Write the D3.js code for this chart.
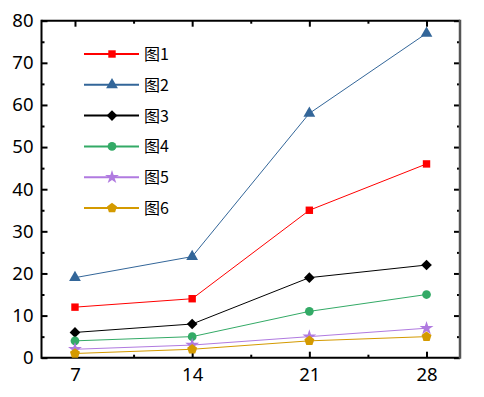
<!DOCTYPE html>
<meta charset="utf-8">
<script src="https://d3js.org/d3.v7.min.js"></script>
<style>
  body { margin: 0; background: #fff; }
  text { font-family: "Noto Sans", "Noto Sans CJK SC", sans-serif; }
</style>
<body>
<svg id="chart" width="484" height="397"></svg>
<script>
  // data
  var days = [7, 14, 21, 28];
  var names = ["图1", "图2", "图3", "图4", "图5", "图6"];
  var s1 = [12, 14, 35, 46];
  var s2 = [19, 24, 58, 77];
  var s3 = [6, 8, 19, 22];
  var s4 = [4, 5, 11, 15];
  var s5 = [2, 3, 5, 7];
  var s6 = [1, 2, 4, 5];
  var yTicks = [0, 10, 20, 30, 40, 50, 60, 70, 80];

  var colors = ["#ff0000", "#336699", "#000000", "#33aa66", "#b07ae0", "#d49a00"];
  var sizes = [55, 60, 55, 60, 60, 65];
  var series = [s1, s2, s3, s4, s5, s6];

  var svg = d3.select("#chart");
  var mLeft = 41.5, mRight = 460, mTop = 20.7, mBottom = 357.7;

  var x = d3.scaleLinear().domain([5, 30]).range([mLeft, mRight]);
  var y = d3.scaleLinear().domain([0, 80]).range([mBottom, mTop]);

  // custom symbols
  function polygon(n, rot, k) {
    return {
      draw: function(ctx, size) {
        var r = Math.sqrt(size) * k;
        for (var i = 0; i < n; i++) {
          var a = rot + i * 2 * Math.PI / n;
          if (i == 0) ctx.moveTo(r * Math.cos(a), r * Math.sin(a));
          else ctx.lineTo(r * Math.cos(a), r * Math.sin(a));
        }
        ctx.closePath();
      }
    };
  }
  var diamond = polygon(4, 0, 0.72);
  var pentagon = polygon(5, -Math.PI / 2, 0.65);
  var shapes = [d3.symbolSquare, d3.symbolTriangle, diamond,
                d3.symbolCircle, d3.symbolStar, pentagon];

  function sym(i) {
    return d3.symbol().type(shapes[i]).size(sizes[i])();
  }

  // axes, ticks pointing inwards
  var minorX = [10.5, 17.5, 24.5];
  var minorY = d3.range(5, 80, 10);

  function noDomain(g) { g.select(".domain").remove(); }

  svg.append("g").attr("transform", "translate(0," + mBottom + ")")
    .call(d3.axisBottom(x).tickValues(days).tickSize(-6).tickPadding(10))
    .call(function(g) {
      noDomain(g);
      g.attr("font-size", 18.5).attr("font-family", null);
      g.selectAll("text").attr("fill", "#000");
    });
  svg.append("g").attr("transform", "translate(0," + mBottom + ")")
    .call(d3.axisBottom(x).tickValues(minorX).tickSize(-3).tickFormat(""))
    .call(noDomain);

  svg.append("g").attr("transform", "translate(0," + mTop + ")")
    .call(d3.axisTop(x).tickValues(days).tickSize(-6).tickFormat(""))
    .call(noDomain);
  svg.append("g").attr("transform", "translate(0," + mTop + ")")
    .call(d3.axisTop(x).tickValues(minorX).tickSize(-3).tickFormat(""))
    .call(noDomain);

  svg.append("g").attr("transform", "translate(" + mLeft + ",0)")
    .call(d3.axisLeft(y).tickValues(yTicks).tickSize(-6).tickPadding(8))
    .call(function(g) {
      noDomain(g);
      g.attr("font-size", 18.5).attr("font-family", null);
      g.selectAll("text").attr("fill", "#000");
    });
  svg.append("g").attr("transform", "translate(" + mLeft + ",0)")
    .call(d3.axisLeft(y).tickValues(minorY).tickSize(-3).tickFormat(""))
    .call(noDomain);

  svg.append("g").attr("transform", "translate(" + mRight + ",0)")
    .call(d3.axisRight(y).tickValues(yTicks).tickSize(-6).tickFormat(""))
    .call(noDomain);
  svg.append("g").attr("transform", "translate(" + mRight + ",0)")
    .call(d3.axisRight(y).tickValues(minorY).tickSize(-3).tickFormat(""))
    .call(noDomain);

  svg.selectAll(".tick line").attr("stroke", "#000").attr("stroke-width", 2);

  // frame
  svg.append("line").attr("x1", mLeft).attr("x2", mRight).attr("y1", mTop).attr("y2", mTop)
    .attr("stroke", "#000").attr("stroke-width", 2);
  svg.append("line").attr("x1", mLeft).attr("x2", mRight).attr("y1", mBottom).attr("y2", mBottom)
    .attr("stroke", "#000").attr("stroke-width", 2);
  svg.append("line").attr("x1", mLeft).attr("x2", mLeft).attr("y1", mTop - 1).attr("y2", mBottom + 1)
    .attr("stroke", "#000").attr("stroke-width", 2);
  svg.append("line").attr("x1", mRight).attr("x2", mRight).attr("y1", mTop - 1).attr("y2", mBottom + 1)
    .attr("stroke", "#555").attr("stroke-width", 2.5);

  // lines and markers
  var line = d3.line().x(function(d, i) { return x(days[i]); }).y(function(d) { return y(d); });

  series.forEach(function(vals, k) {
    svg.append("path").datum(vals)
      .attr("d", line)
      .attr("fill", "none")
      .attr("stroke", colors[k])
      .attr("stroke-width", 1);
    svg.append("g").selectAll("path")
      .data(vals)
      .enter()
      .append("path")
      .attr("d", sym(k))
      .attr("transform", function(d, i) { return "translate(" + x(days[i]) + "," + y(d) + ")"; })
      .attr("fill", colors[k]);
  });

  // legend
  var leg = svg.append("g");
  names.forEach(function(n, k) {
    var ly = 54 + k * 30.8;
    leg.append("line").attr("x1", 84).attr("x2", 139).attr("y1", ly).attr("y2", ly)
      .attr("stroke", colors[k]).attr("stroke-width", 2);
    leg.append("path").attr("d", sym(k))
      .attr("transform", "translate(112," + ly + ")")
      .attr("fill", colors[k]);
    leg.append("text").attr("x", 144).attr("y", ly + 6)
      .style("font-size", "16px")
      .style("font-family", "'Noto Sans CJK SC', 'Noto Sans', sans-serif")
      .text(n);
  });
</script>
</body>
